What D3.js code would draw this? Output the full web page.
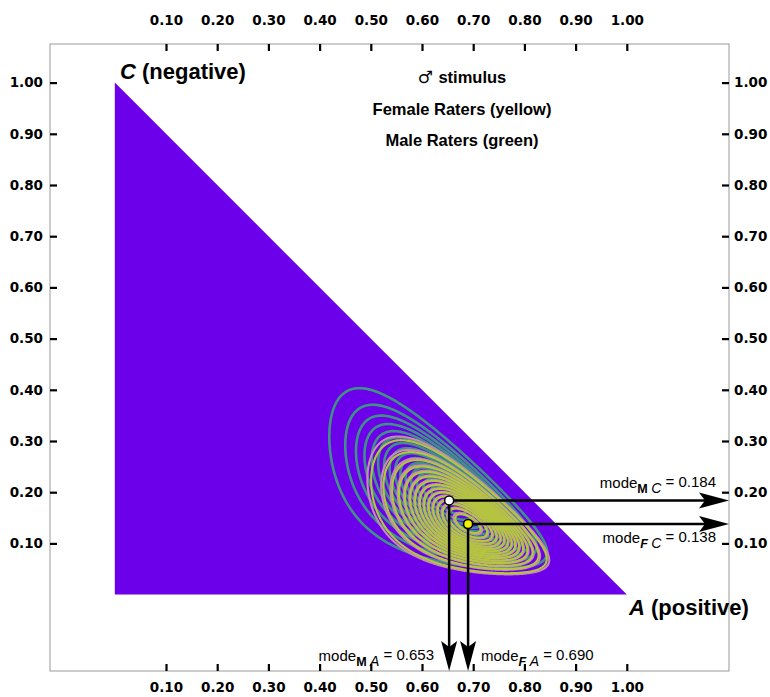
<!DOCTYPE html>
<html>
<head>
<meta charset="utf-8">
<script src="https://cdn.jsdelivr.net/npm/d3@7"></script>
<style>
body{margin:0;background:#fff;}
.title{font-family:'Liberation Sans',Arial;font-weight:bold;font-size:16.5px;fill:#000;}
.corner{font-family:'Liberation Sans',Arial;font-weight:bold;font-size:22px;fill:#000;}
.mode{font-family:'Liberation Sans',Arial;font-size:15px;fill:#000;}
</style>
</head>
<body>
<div id="canvas"></div>
<script>
// tick values on all four sides
var tickValues = [0.1,0.2,0.3,0.4,0.5,0.6,0.7,0.8,0.9,1.0];

// modes read from the annotations (M = male raters, F = female raters)
var raters = ['M','F'];
var modeA = [0.653, 0.690];
var modeC = [0.184, 0.138];
// Dirichlet concentration (alpha0), estimated from the contour spread
var concentration = [28, 38];
var contourCount = 15;

var titleLines = ['stimulus','Female Raters (yellow)','Male Raters (green)'];

var W = 770, H = 697;
var frame = {l:50, r:729, t:44, b:671};

var svg = d3.select('#canvas').append('svg')
    .attr('width',W).attr('height',H);

var x = d3.scaleLinear().domain([0,1]).range([114.8,626.8]);
var y = d3.scaleLinear().domain([0,1]).range([594.6,82.6]);

// simplex triangle
svg.append('path')
    .attr('d','M'+x(0)+','+y(0)+'L'+x(0)+','+y(1)+'L'+x(1)+','+y(0)+'Z')
    .attr('fill','#6c00ea');

// density grid for each rater group
var n = 400;
function grid(i){
    var a0 = concentration[i];
    var aA = 1 + modeA[i]*(a0-3),
        aC = 1 + modeC[i]*(a0-3),
        aB = 1 + (1-modeA[i]-modeC[i])*(a0-3);
    function lp(a,c){
        var b = 1-a-c;
        return (aA-1)*Math.log(a)+(aB-1)*Math.log(b)+(aC-1)*Math.log(c);
    }
    var peak = lp(modeA[i],modeC[i]);
    var vals = new Float64Array(n*n);
    for(var j=0;j<n;j++){
        var c = 1-(j+0.5)/n;
        for(var k=0;k<n;k++){
            var a = (k+0.5)/n;
            vals[j*n+k] = (a+c<1) ? Math.exp(lp(a,c)-peak) : 0;
        }
    }
    return vals;
}

var cell = (x(1)-x(0))/n;
var path = d3.geoPath(d3.geoTransform({point:function(px,py){
    this.stream.point(x(0)+px*cell, y(1)+py*cell);
}}));

var levels = d3.range(1,contourCount+1).map(function(k){return k/(contourCount+1);});
var step = 1/(contourCount+1);

var gM = grid(0), gF = grid(1);
var contourGen = d3.contours().size([n,n]);

svg.append('g').selectAll('path')
    .data(contourGen.thresholds(levels)(gM))
    .enter().append('path')
    .attr('d',path).attr('fill','none')
    .attr('stroke','#3f9188').attr('stroke-width',2.6);

svg.append('g').selectAll('path')
    .data(contourGen.thresholds(levels)(gF))
    .enter().append('path')
    .attr('d',path).attr('fill','none')
    .attr('stroke','#c68cb0').attr('stroke-width',2.1);

svg.append('g').selectAll('path')
    .data(contourGen.thresholds(levels.map(function(v){return v+0.22*step;}))(gF))
    .enter().append('path')
    .attr('d',path).attr('fill','none')
    .attr('stroke','#b3c63c').attr('stroke-width',2.1);

// frame
svg.append('rect')
    .attr('x',frame.l).attr('y',frame.t)
    .attr('width',frame.r-frame.l).attr('height',frame.b-frame.t)
    .attr('fill','none').attr('stroke','#999').attr('stroke-width',1);

// axes: ticks point inward
var fmt = d3.format('.2f');
var axTop = d3.axisTop(x).tickValues(tickValues).tickFormat(fmt).tickSizeInner(-7).tickSizeOuter(0).tickPadding(19);
var axBottom = d3.axisBottom(x).tickValues(tickValues).tickFormat(fmt).tickSizeInner(-7).tickSizeOuter(0).tickPadding(11);
var axLeft = d3.axisLeft(y).tickValues(tickValues).tickFormat(fmt).tickSizeInner(-7).tickSizeOuter(0).tickPadding(7);
var axRight = d3.axisRight(y).tickValues(tickValues).tickFormat(fmt).tickSizeInner(-7).tickSizeOuter(0).tickPadding(5);

function styleAxis(g){
    g.select('.domain').remove();
    g.selectAll('line').attr('stroke','#000').attr('stroke-width',2.2);
    g.selectAll('text')
        .style('font-family','DejaVu Sans')
        .style('font-weight','bold')
        .style('font-size','13.5px')
        .attr('fill','#000');
}
svg.append('g').attr('transform','translate(0,'+frame.t+')').call(axTop).call(styleAxis);
svg.append('g').attr('transform','translate(0,'+frame.b+')').call(axBottom).call(styleAxis);
svg.append('g').attr('transform','translate('+frame.l+',0)').call(axLeft).call(styleAxis);
svg.append('g').attr('transform','translate('+frame.r+',0)').call(axRight).call(styleAxis);

// arrows from each mode to the frame
function arrowHead(tx,ty,dir){
    var L = 30, hw = 8, notch = 24, p;
    if(dir==='right') p = [[tx,ty],[tx-L,ty-hw],[tx-notch,ty],[tx-L,ty+hw]];
    else p = [[tx,ty],[tx-hw,ty-L],[tx,ty-notch],[tx+hw,ty-L]];
    svg.append('path').attr('d','M'+p.join('L')+'Z').attr('fill','#000');
}
raters.forEach(function(r,i){
    var px = x(modeA[i]), py = y(modeC[i]);
    svg.append('line').attr('x1',px).attr('y1',py).attr('x2',frame.r-24).attr('y2',py)
        .attr('stroke','#000').attr('stroke-width',2.5);
    svg.append('line').attr('x1',px).attr('y1',py).attr('x2',px).attr('y2',frame.b-24)
        .attr('stroke','#000').attr('stroke-width',2.5);
    arrowHead(frame.r,py,'right');
    arrowHead(px,frame.b,'down');
});
raters.forEach(function(r,i){
    svg.append('circle').attr('cx',x(modeA[i])).attr('cy',y(modeC[i])).attr('r',4.5)
        .attr('fill',r==='M'?'#fff':'#f2f200').attr('stroke','#000').attr('stroke-width',1.5);
});

// mode labels
function modeLabel(tx,ty,anchor,who,comp,val){
    var t = svg.append('text').attr('class','mode').attr('x',tx).attr('y',ty).attr('text-anchor',anchor);
    t.append('tspan').text('mode');
    t.append('tspan').attr('dy',5).style('font-size','12.5px').style('font-weight','bold')
        .style('font-style',who==='F'?'italic':'normal').text(who+' ');
    t.append('tspan').style('font-size','14px').style('font-style','italic').text(comp);
    t.append('tspan').attr('dy',-6).text(' = '+d3.format('.3f')(val));
}
modeLabel(716,488,'end','M','C',modeC[0]);
modeLabel(716,543,'end','F','C',modeC[1]);
modeLabel(434,661,'end','M','A',modeA[0]);
modeLabel(481,661,'start','F','A',modeA[1]);

// corner labels
var cl = svg.append('text').attr('class','corner').attr('x',120).attr('y',79);
cl.append('tspan').style('font-style','italic').text('C');
cl.append('tspan').text(' (negative)');
var al = svg.append('text').attr('class','corner').attr('x',629).attr('y',615);
al.append('tspan').style('font-style','italic').text('A');
al.append('tspan').text(' (positive)');

// title
var tt = svg.selectAll('.title').data(titleLines).enter().append('text')
    .attr('class','title').attr('text-anchor','middle')
    .attr('x',462).attr('y',function(d,i){return 83+i*31.5;});
tt.filter(function(d,i){return i===0;}).append('tspan')
    .style('font-family','DejaVu Sans').style('font-weight','normal').style('font-size','17px')
    .text('\u2642 ');
tt.append('tspan').text(function(d){return d;});
</script>
</body>
</html>
